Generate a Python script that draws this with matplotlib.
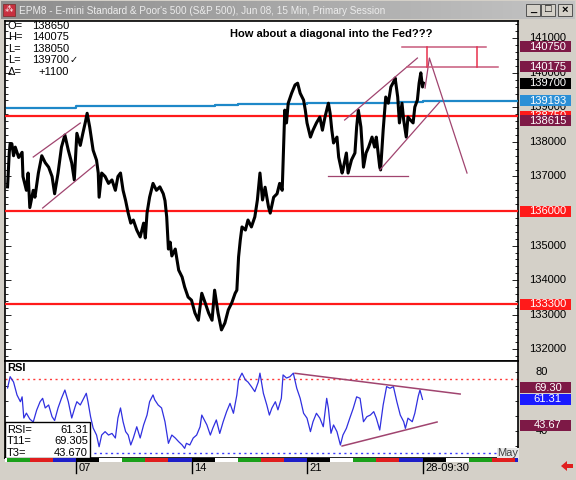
import matplotlib
matplotlib.use('Agg')
import matplotlib.pyplot as plt
import matplotlib.transforms as mtransforms
from matplotlib.patches import Rectangle, Polygon
from matplotlib.ticker import MultipleLocator
from matplotlib.colors import LinearSegmentedColormap
import numpy as np

plt.rcParams['font.family'] = ['Liberation Sans', 'DejaVu Sans']

# x = 15-min bar number counted from the Apr 07 open (27 bars per session)
price_bar = [-80, -78, -77, -75, -73, -71, -67, -63, -62, -58,
             -56, -54, -50, -48, -44, -40, -36, -32, -28, -25,
             -21, -17, -13, -9, -5, -2, 1, 5, 8, 11,
             13, 16, 20, 24, 26, 27, 30, 34, 38, 42,
             46, 49, 52, 55, 58, 61, 64, 67, 71, 75,
             79, 81, 83, 86, 90, 94, 98, 102, 104, 106,
             108, 110, 112, 116, 120, 124, 127, 131, 135, 139,
             143, 147, 151, 155, 159, 162, 166, 170, 174, 178,
             182, 186, 188, 190, 192, 194, 198, 201, 205, 209,
             212, 215, 218, 221, 225, 227, 231, 235, 238, 241,
             242, 244, 246, 248, 252, 256, 259, 262, 266, 268,
             270, 274, 277, 281, 285, 288, 291, 295, 297, 299,
             301, 305, 307, 311, 312, 316, 318, 322, 326, 328,
             330, 333, 336, 339, 342, 346, 349, 351, 355, 356,
             359, 362, 365, 368, 371, 373, 376, 378, 381, 383,
             386, 388, 391, 394, 396, 399, 401, 403, 405, 406]
price = [136700, 137700, 137950, 137950, 137600, 137850, 137550, 137700, 137000, 136600,
         137100, 136100, 136600, 136400, 137100, 137600, 137400, 137270, 137000, 136500,
         137100, 137850, 138200, 137760, 137390, 136900, 138250, 137900, 138250, 138580,
         138830, 138430, 137760, 137470, 137100, 136400, 137100, 137000, 136800, 136900,
         136600, 137000, 137100, 136600, 136300, 135940, 135650, 135740, 135450, 135250,
         135650, 135220, 135940, 136400, 136800, 136600, 136700, 136500, 136300, 135830,
         134900, 135100, 134700, 134900, 134290, 134090, 133800, 133510, 133420, 133050,
         132840, 133620, 133340, 133050, 132840, 133710, 133050, 132560, 132760, 133140,
         133340, 133620, 133710, 134670, 135160, 135540, 135450, 135740, 135540, 135830,
         136320, 137100, 136320, 136690, 136120, 135940, 136400, 136500, 136800, 136600,
         137380, 138920, 138550, 139120, 139410, 139650, 139700, 139410, 139210, 138920,
         138550, 138140, 138340, 138550, 138720, 138340, 138720, 139120, 138830, 138340,
         137970, 138140, 137560, 137100, 137190, 137680, 137100, 137480, 137680, 138430,
         138920, 138430, 137270, 137680, 137850, 138140, 137850, 138140, 137270, 137190,
         138340, 139300, 139120, 139590, 139730, 139850, 139300, 138550, 139120, 138630,
         138140, 138720, 138630, 138550, 139010, 139210, 139700, 140000, 139590, 139700]

rsi_bar = [-80, -77, -73, -69, -65, -63, -61, -58, -54, -50,
           -46, -42, -39, -36, -32, -28, -25, -21, -17, -13,
           -9, -5, -1, 1, 5, 9, 12, 14, 17, 20,
           24, 27, 30, 34, 38, 42, 46, 49, 52, 55,
           58, 61, 64, 67, 71, 75, 79, 83, 86, 90,
           92, 96, 100, 104, 108, 112, 116, 120, 124, 127,
           129, 133, 137, 141, 145, 147, 151, 153, 157, 160,
           164, 168, 172, 176, 180, 184, 188, 190, 194, 198,
           201, 205, 209, 213, 215, 219, 223, 226, 229, 233,
           236, 240, 242, 246, 250, 254, 258, 262, 266, 270,
           274, 277, 281, 285, 289, 293, 295, 298, 301, 305,
           309, 312, 316, 320, 324, 328, 332, 336, 340, 344,
           348, 351, 355, 359, 363, 367, 371, 375, 379, 383,
           385, 388, 393, 396, 400, 402, 405]
rsi = [69, 76.6, 73, 64.3, 59.7, 63, 48.7, 52, 48, 46,
       54, 59.7, 62, 55.5, 57.5, 49.6, 47, 55.5, 62, 67.6,
       59.7, 48.7, 56.4, 59.7, 57.5, 62, 65.4, 59.7, 49.6, 42,
       37.2, 29.3, 37.2, 39.5, 37.2, 38.3, 35.2, 48.7, 55.5, 46.2,
       39.5, 37.2, 30.5, 35.2, 42.8, 35.2, 44, 50.7, 59.7, 64.3,
       61, 57.5, 55.5, 46.2, 31.6, 37.2, 35.2, 32.7, 30.5, 28.2,
       31.6, 30.5, 35.2, 37.2, 42.8, 50.7, 46.2, 44, 37.2, 42,
       47.4, 38.3, 46.2, 53, 58.6, 51.9, 64.3, 74.4, 79, 74.4,
       73, 69.9, 66.5, 73, 79, 65.4, 57.5, 50.7, 55.5, 59.7,
       54.2, 62, 77.8, 75.7, 76.6, 79, 68.8, 62, 51.9, 48.6,
       39.5, 46.2, 51.9, 48.6, 42.8, 62, 55.2, 38.4, 44, 39.5,
       30.5, 37.2, 41.7, 48.6, 55.2, 63, 62, 46.2, 49.6, 50.7,
       53, 48.6, 40.6, 57.5, 69.9, 68.8, 69.9, 59.7, 50.7, 46.2,
       41.7, 48.6, 46.2, 51.9, 63.4, 67.6, 61.3]

# blue moving average, one value per session (session -3 .. 19)
ma_session = list(range(-3, 20))
ma = [138995, 138995, 138995, 139030, 139030, 139047, 139047, 139047, 139047, 139070,
      139097, 139097, 139110, 139134, 139134, 139134, 139134, 139150, 139183, 139183,
      139193, 139193, 139193]

bars_per_session = 27
red_levels = [138750, 136000, 133300]
price_ticks = list(range(132000, 141001, 1000))
rsi_ticks = [80, 40]
date_ticks = [0, 135, 270, 405]
date_labels = ['07', '14', '21', '28-09:30']

# hand-drawn studies (bar, price)
left_chan_hi = ([-50, 5], [137563, 138547])
left_chan_lo = ([-39, 22], [136087, 137331])
support = ([295, 388], [137000, 137000])
wedge_hi = ([314, 399], [138634, 140428])
wedge_lo = ([355, 425], [137187, 139155])
projection = ([408, 413, 457], [139560, 140428, 137100])
target_hi = ([381, 479], 140750)
target_lo = ([387, 493], 140175)
target_marks = [410, 469]
rsi_line_hi = ([256, 449], [78.9, 64.9])
rsi_line_lo = ([311, 422], [29.8, 46.0])

price_tags = [(140750, '140750', '#7d1946'), (140175, '140175', '#7d1946'),
              (139700, '139700', '#000000'), (139193, '139193', '#2b8fd6'),
              (138750, '138750', '#ff1a1a'), (138615, '138615', '#7d1946'),
              (136000, '136000', '#ff1a1a'), (133300, '133300', '#ff1a1a')]
rsi_tags = [(69.30, '69.30', '#7d1946'), (61.31, '61.31', '#1a1aff'), (43.67, '43.67', '#7d1946')]
ohlc_rows = [('O=', '138650', ''), ('H=', '140075', ''), ('L=', '138050', ''),
             ('L=', '139700', '✓'), ('Δ=', '+1100', '')]
rsi_rows = [('RSI=', '61.31'), ('T11=', '69.305'), ('T3=', '43.670')]
weekday_colors = ['#000000', '#ffffff', '#1aa01a', '#e01e1e', '#1e1ec8']

W, H = 576, 480
xlo, xhi = -83, 516.6
study = '#a0446f'

fig = plt.figure(figsize=(W / 100, H / 100), dpi=100, facecolor='#d4d0c8')

# window chrome in pixel coordinates
bg = fig.add_axes([0, 0, 1, 1], zorder=-10)
bg.axis('off')
tb = LinearSegmentedColormap.from_list('tb', ['#8c8c8c', '#c4c4c4'])
bg.imshow(np.linspace(0, 1, 256)[None, :], cmap=tb, extent=(1, 575, 19, 1), aspect='auto')
bg.set_xlim(0, W)
bg.set_ylim(H, 0)
bg.add_patch(Rectangle((3, 4), 12, 12, fc='#c83040', ec='#803030', lw=0.6))
bg.text(9, 10, '⁂', color='white', fontsize=6, ha='center', va='center')
bg.text(19, 10.5, "EPM8 - E-mini Standard & Poor's 500 (S&P 500), Jun 08, 15 Min, Primary Session",
        color='#ececec', fontsize=7.2, va='center', ha='left')
for bx, glyph in zip([526, 541, 558], ['_', '□', '×']):
    bg.add_patch(Rectangle((bx, 4), 14, 12, fc='#d4d0c8', ec='#404040', lw=0.6))
    bg.text(bx + 7, 9.5, glyph, fontsize=8, ha='center', va='center', color='black',
            fontweight='bold')
bg.add_patch(Polygon([(561, 466), (567, 461), (567, 464), (573, 464), (573, 468),
                      (567, 468), (567, 471)], closed=True, fc='#e01e1e', ec='none'))

# price panel
ax = fig.add_axes([5 / W, 119 / H, 513 / W, 340 / H])
ax.set_facecolor('white')
ax.set_xlim(xlo, xhi)
ax.set_ylim(131660, 141500)
ax.set_xticks([])
ax.set_yticks(price_ticks)
ax.yaxis.set_minor_locator(MultipleLocator(200))
ax.tick_params(axis='y', which='both', direction='in', left=True, right=True,
               labelleft=False, labelright=False, width=0.6)
ax.tick_params(axis='y', which='major', length=4)
ax.tick_params(axis='y', which='minor', length=2)
for s in ax.spines.values():
    s.set_linewidth(1.2)

ma_x = [d * bars_per_session for d in ma_session]
ax.step(ma_x + [xhi], ma + [ma[-1]], where='post', color='#1e88c8', lw=1.6, zorder=3)
for lv in red_levels:
    ax.axhline(lv, color='#ff1a1a', lw=1.6, zorder=3)
ax.plot(price_bar, price, color='black', lw=2.2, zorder=4)

for xs, ys in [left_chan_hi, left_chan_lo, support, wedge_hi, wedge_lo, projection]:
    ax.plot(xs, ys, color=study, lw=0.9, zorder=5)
ax.plot(target_hi[0], [target_hi[1]] * 2, color='#c85a7c', lw=1.1, zorder=5)
ax.plot(target_lo[0], [target_lo[1]] * 2, color='#c85a7c', lw=1.1, zorder=5)
for xm in target_marks:
    ax.plot([xm, xm], [target_lo[1], target_hi[1]], color='#e8304c', lw=1.1, zorder=5)

ax.text(0.6355, 0.962, 'How about a diagonal into the Fed???', transform=ax.transAxes,
        ha='center', va='center', fontsize=8, fontweight='bold')

for i, (lab, val, mark) in enumerate(ohlc_rows):
    yy = 1 - (5 + 11.4 * i) / 340
    ax.text(3 / 513, yy, lab, transform=ax.transAxes, fontsize=8, va='center', ha='left')
    ax.text(64 / 513, yy, val, transform=ax.transAxes, fontsize=8, va='center', ha='right')
    if mark:
        ax.text(64.5 / 513, yy, mark, transform=ax.transAxes, fontsize=7, va='center',
                ha='left', family='DejaVu Sans')

layer = [6]


def tag(axis, y, txt, fc=None, tc='white', xc=1.058):
    # later tags are stacked above earlier ones, like the platform's price scale
    y0, y1 = axis.get_ylim()
    h = 11 * (y1 - y0) / (axis.get_position().height * H)
    tr = mtransforms.blended_transform_factory(axis.transAxes, axis.transData)
    z = layer[0]
    layer[0] += 2
    if fc is not None:
        axis.add_patch(Rectangle((1.003, y - h / 2), 0.1, h, transform=tr, fc=fc, ec='none',
                                 clip_on=False, zorder=z))
    axis.text(xc, y, txt, transform=tr, ha='center', va='center', color=tc if fc else 'black',
              fontsize=8, clip_on=False, zorder=z + 1)


for t in price_ticks:
    tag(ax, t, str(t))
for lv, txt, fc in price_tags:
    tag(ax, lv, txt, fc)

# RSI panel
rx = fig.add_axes([5 / W, 22 / H, 513 / W, 97 / H])
rx.set_facecolor('white')
rx.set_xlim(xlo, xhi)
rx.set_ylim(21.7, 87.2)
rx.set_xticks([])
rx.set_yticks([40, 60, 80])
rx.yaxis.set_minor_locator(MultipleLocator(10))
rx.tick_params(axis='y', which='both', direction='in', left=True, right=True,
               labelleft=False, labelright=False, length=2, width=0.6)
for s in rx.spines.values():
    s.set_linewidth(1.2)
rx.axhline(75, color='#ff3a3a', lw=1, ls=(0, (1.5, 2.5)))
rx.axhline(25, color='#3a3aff', lw=1, ls=(0, (1.5, 2.5)))
rx.plot(rsi_bar, rsi, color='#3030e0', lw=0.9, zorder=3)
for xs, ys in [rsi_line_hi, rsi_line_lo]:
    rx.plot(xs, ys, color=study, lw=1.1, zorder=4)
rx.text(2 / 513, 0.93, 'RSI', transform=rx.transAxes, fontsize=8, fontweight='bold',
        va='center', ha='left')
rx.text(505, 25, 'May', fontsize=8, color='#404040', ha='center', va='center',
        bbox=dict(boxstyle='square,pad=0.05', fc='#e8e8e8', ec='none'), zorder=5)
rx.add_patch(Rectangle((0, 0), 85 / 513, 36 / 97, transform=rx.transAxes, fc='white',
                       ec='black', lw=1, zorder=6))
for i, (lab, val) in enumerate(rsi_rows):
    yy = (28 - 11.3 * i) / 97
    rx.text(2 / 513, yy, lab, transform=rx.transAxes, fontsize=8, va='center', zorder=7)
    rx.text(83 / 513, yy, val, transform=rx.transAxes, fontsize=8, va='center', ha='right',
            zorder=7)
layer[0] = 8
for t in rsi_ticks:
    tag(rx, t, str(t), xc=1.047)
for lv, txt, fc in rsi_tags:
    tag(rx, lv, txt, fc)

# session colour strip
sx = fig.add_axes([5 / W, 18.5 / H, 513 / W, 3.5 / H])
sx.set_xlim(xlo, xhi)
sx.set_ylim(0, 1)
sx.axis('off')
for d in range(-4, 20):
    sx.axvspan(d * bars_per_session, (d + 1) * bars_per_session, color=weekday_colors[d % 5], lw=0)

# date axis
dx = fig.add_axes([5 / W, 2 / H, 513 / W, 16 / H])
dx.set_xlim(xlo, xhi)
dx.set_ylim(0, 1)
dx.axis('off')
lab_tr = mtransforms.offset_copy(dx.transData, fig=fig, x=2.5, y=0, units='dots')
for xt, lab in zip(date_ticks, date_labels):
    dx.plot([xt, xt], [1, 0.3], color='black', lw=1)
    dx.text(xt, 0.62, lab, transform=lab_tr, fontsize=8, ha='left', va='center')

fig.savefig('out.png', dpi=100, facecolor=fig.get_facecolor())
